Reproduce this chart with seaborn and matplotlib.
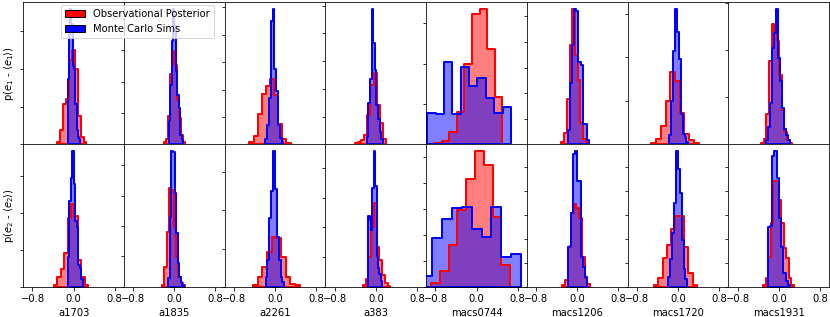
import numpy as np
import matplotlib
matplotlib.use("Agg")
import matplotlib.pyplot as plt
import matplotlib.patches as mpatches
from matplotlib.ticker import MaxNLocator
import seaborn as sns

# === Clusters (one column each) ===
clusters = ["a1703", "a1835", "a2261", "a383", "macs0744", "macs1206", "macs1720", "macs1931"]

# === e1: histogram range (lo, hi) and bin densities ===
obs_e1_range = [(-0.32, 0.25), (-0.21, 0.21), (-0.50, 0.30), (-0.41, 0.20),
                (-0.828, 0.50), (-0.31, 0.22), (-0.52, 0.40), (-0.34, 0.26)]
obs_e1_dens = [
    [0.11, 0.74, 2.12, 2.39, 4.46, 4.99, 3.98, 1.49, 0.37, 0.11],
    [0.13, 0.32, 1.84, 4.49, 5.95, 5.06, 2.85, 1.71, 0.57, 0.13],
    [0.07, 0.29, 1.12, 1.84, 2.13, 2.38, 1.81, 0.76, 0.18, 0.04],
    [0.07, 0.14, 0.29, 0.71, 2.14, 4.29, 5.14, 2.86, 1.57, 0.36],
    [0.016, 0.041, 0.153, 0.397, 1.0, 1.62, 1.68, 1.175, 0.587],
    [0.09, 0.43, 1.78, 3.9, 5.27, 3.5, 2.5, 0.85, 0.23, 0.08],
    [0.045, 0.27, 0.86, 2.0, 3.32, 2.91, 1.45, 0.5, 0.18, 0.045],
    [0.04, 0.21, 1.31, 3.54, 5.14, 4.84, 4.38, 2.95, 1.47, 0.51, 0.17, 0.04],
]
sim_e1_range = [(-0.115, 0.13), (-0.11, 0.17), (-0.19, 0.16), (-0.18, 0.14),
                (-0.959, 0.667), (-0.19, 0.23), (-0.17, 0.20), (-0.25, 0.22)]
sim_e1_dens = [
    [3.5, 5.89, 7.21, 6.37, 4.19, 4.03, 2.12, 0.74, 0.37, 0.27],
    [1.52, 3.8, 6.58, 8.67, 7.59, 4.68, 3.16, 2.34, 0.63, 0.25],
    [0.18, 0.72, 1.7, 4.51, 4.95, 2.74, 1.95, 0.72, 0.22, 0.07],
    [0.5, 3.0, 4.71, 9.79, 7.29, 5.36, 2.86, 1.86, 0.86, 0.36],
    [0.388, 0.372, 1.02, 0.381, 0.959, 0.72, 0.823, 0.574, 0.393, 0.463],
    [0.58, 2.4, 3.9, 5.3, 5.2, 3.2, 3.1, 0.81, 0.81, 0.16],
    [0.45, 2.0, 4.27, 6.23, 5.18, 3.9, 1.41, 0.5, 0.32, 0.09],
    [0.17, 0.72, 1.77, 4.08, 4.72, 5.77, 3.66, 2.69, 1.56, 0.67, 0.38, 0.17],
]

# === e2 ===
obs_e2_range = [(-0.38, 0.28), (-0.24, 0.21), (-0.43, 0.48), (-0.25, 0.28),
                (-0.887, 0.653), (-0.29, 0.25), (-0.47, 0.37), (-0.30, 0.29)]
obs_e2_dens = [
    [0.11, 0.54, 0.97, 1.82, 3.75, 4.5, 3.86, 1.45, 0.54, 0.11],
    [0.13, 1.31, 3.61, 6.49, 6.36, 3.93, 1.97, 0.66, 0.26, 0.13],
    [0.1, 0.52, 1.04, 1.81, 2.59, 2.54, 1.55, 0.52, 0.16, 0.1],
    [0.13, 0.53, 2.0, 4.0, 5.67, 2.67, 1.8, 0.8, 0.27, 0.07],
    [0.036, 0.157, 0.404, 0.74, 1.04, 1.31, 1.18, 0.67, 0.21],
    [0.08, 0.29, 1.65, 3.1, 3.47, 3.3, 2.89, 1.24, 0.37, 0.12],
    [0.08, 0.37, 1.19, 1.73, 2.39, 2.96, 2.96, 1.65, 0.58, 0.08],
    [0.08, 0.37, 1.23, 2.67, 4.4, 4.4, 3.62, 2.67, 1.6, 1.19, 0.37, 0.08],
]
sim_e2_range = [(-0.11, 0.18), (-0.115, 0.18), (-0.185, 0.18), (-0.146, 0.12),
                (-1.053, 0.862), (-0.19, 0.19), (-0.19, 0.18), (-0.21, 0.22)]
sim_e2_dens = [
    [1.61, 4.66, 5.9, 7.35, 5.58, 3.59, 3.22, 1.18, 1.02, 0.43],
    [0.59, 4.59, 8.92, 8.85, 6.16, 3.54, 1.57, 0.66, 0.33, 0.13],
    [0.52, 1.4, 3.63, 5.03, 7.1, 5.13, 2.59, 1.4, 0.52, 0.26],
    [4.8, 4.53, 3.8, 6.67, 9.13, 6.8, 2.0, 1.27, 0.87, 0.4],
    [0.106, 0.468, 0.66, 0.757, 0.772, 0.555, 0.484, 0.772, 0.286, 0.317],
    [1.65, 1.7, 3.1, 5.54, 5.66, 4.42, 4.42, 1.24, 0.83, 0.41],
    [0.41, 1.15, 2.26, 3.5, 5.64, 4.9, 3.9, 1.93, 0.74, 0.33],
    [2.47, 2.55, 5.43, 5.64, 5.64, 4.53, 2.88, 1.65, 0.58, 0.58, 0.25, 0.08],
]

obs_color = "red"
sim_color = "blue"


# === Draw one binned histogram (filled pass or outline pass) ===
def draw_hist(ax, rng, dens, color, outline):
    n = len(dens)
    lo, hi = rng
    centers = lo + (np.arange(n) + 0.5) * (hi - lo) / n
    sns.histplot(x=centers, weights=dens, bins=n, binrange=rng, element="step",
                 fill=True, color=color, alpha=0.0 if outline else 0.5,
                 linewidth=2.0 if outline else 0, ax=ax)


fig, axes = plt.subplots(2, 8, figsize=(830 / 72, 317 / 72), dpi=72, sharex=True)
fig.subplots_adjust(left=0.028, right=0.999, top=0.994, bottom=0.095, wspace=0, hspace=0)

rows = [(obs_e1_range, obs_e1_dens, sim_e1_range, sim_e1_dens),
        (obs_e2_range, obs_e2_dens, sim_e2_range, sim_e2_dens)]

for r, (o_rng, o_d, s_rng, s_d) in enumerate(rows):
    for c in range(len(clusters)):
        ax = axes[r, c]
        # fills first, then the solid outlines on top
        draw_hist(ax, o_rng[c], o_d[c], obs_color, False)
        draw_hist(ax, s_rng[c], s_d[c], sim_color, False)
        draw_hist(ax, o_rng[c], o_d[c], obs_color, True)
        draw_hist(ax, s_rng[c], s_d[c], sim_color, True)
        ax.set_ylim(bottom=0)
        ax.yaxis.set_major_locator(MaxNLocator(nbins=6, steps=[1, 2, 2.5, 5, 10]))
        ax.tick_params(axis="y", labelleft=False)
        ax.set_ylabel("")
        if r == 0:
            ax.tick_params(axis="x", bottom=False, labelbottom=False)
            ax.set_xlabel("")
        else:
            ax.set_xlabel(clusters[c])

axes[1, 0].set_xticks([-0.8, 0.0, 0.8])
axes[1, 0].set_xlim(-0.98, 0.98)

axes[0, 0].set_ylabel(r"p($e_1$ - $\langle e_1\rangle$)")
axes[1, 0].set_ylabel(r"p($e_2$ - $\langle e_2\rangle$)")

handles = [mpatches.Patch(facecolor=obs_color, edgecolor="black", label="Observational Posterior"),
           mpatches.Patch(facecolor=sim_color, edgecolor="black", label="Monte Carlo Sims")]
fig.legend(handles=handles, loc="upper left", bbox_to_anchor=(0.0735, 0.984), borderaxespad=0)

plt.savefig("out.png", dpi=72)
